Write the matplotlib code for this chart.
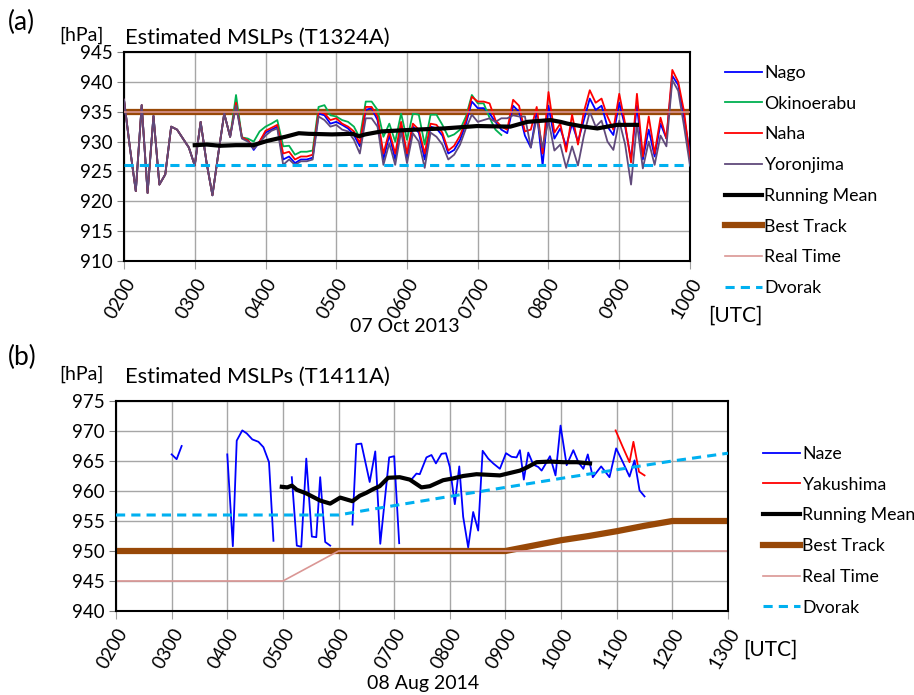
import numpy as np
import matplotlib
matplotlib.use("Agg")
import matplotlib.pyplot as plt

plt.rcParams['font.family'] = ['Lato', 'DejaVu Sans']

nan = np.nan

# ---- panel (a): T1324A, 07 Oct 2013, 5-min samples from 0200 to 1000
a_early = [937.0, 929.0, 921.7, 936.1, 921.4, 934.3, 922.8, 924.5, 932.5, 932.0,
           930.5, 929.0, 926.0, 933.3, 926.5, 921.0, 928.0, 934.7, 930.8]
nago = a_early + [
    936.5, 930.7, 930.3, 928.6, 930.0, 931.5, 932.0, 932.5, 927.0, 927.5,
    926.4, 927.0, 927.0, 927.3, 934.7, 934.4, 933.0, 933.3, 932.8, 932.2,
    931.1, 929.2, 935.3, 935.6, 933.6, 927.0, 931.1, 927.0, 932.8, 927.2,
    932.5, 931.5, 927.0, 932.5, 932.2, 931.0, 928.0, 928.6, 930.3, 933.0,
    936.7, 935.6, 935.6, 934.7, 933.3, 932.0, 931.4, 936.0, 935.0, 931.0,
    929.0, 935.0, 926.0, 936.0, 930.5, 932.2, 929.2, 933.0, 930.0, 933.6,
    937.2, 935.3, 936.0, 932.5, 931.1, 936.5, 932.5, 927.0, 936.0, 927.0,
    932.0, 927.5, 933.0, 930.5, 941.0, 939.5, 934.0, 928.0]
okinoerabu = a_early + [
    937.8, 930.7, 930.5, 930.0, 931.7, 932.5, 933.0, 933.6, 929.2, 929.3,
    927.8, 928.3, 928.3, 928.5, 935.8, 936.1, 934.4, 934.2, 933.6, 933.3,
    932.5, 930.6, 936.7, 936.7, 935.3, 930.8, 933.0, 930.0, 934.7, 930.3,
    934.7, 934.5, 929.5, 934.5, 934.5, 932.8, 930.8, 931.2, 932.0, 934.2,
    937.8, 936.4, 936.4, 934.0, 932.0, 931.1] + [nan] * 32
naha = a_early + [
    936.5, 930.7, 930.2, 928.9, 930.0, 931.8, 932.3, 932.8, 928.0, 928.3,
    927.0, 927.5, 927.5, 927.8, 935.0, 934.7, 933.6, 933.9, 933.0, 932.5,
    931.7, 929.7, 935.8, 935.8, 934.2, 928.0, 931.7, 928.0, 933.3, 928.0,
    933.0, 932.0, 928.0, 933.0, 932.8, 931.5, 928.5, 929.3, 931.0, 933.6,
    937.5, 936.7, 936.7, 936.4, 933.6, 932.5, 932.0, 937.0, 936.0, 931.7,
    932.0, 935.8, 928.0, 938.3, 931.5, 933.0, 928.3, 934.5, 929.5, 935.0,
    938.6, 936.5, 937.2, 934.2, 932.0, 938.0, 933.0, 926.5, 938.0, 927.5,
    934.2, 928.0, 934.0, 930.5, 942.0, 940.0, 935.0, 927.0]
yoronjima = a_early + [
    936.0, 930.5, 930.0, 928.8, 929.8, 931.0, 931.8, 932.2, 926.1, 927.0,
    926.1, 926.7, 926.7, 927.0, 934.2, 933.6, 932.5, 932.8, 932.0, 931.7,
    930.3, 928.0, 933.9, 933.9, 932.5, 926.1, 929.7, 926.1, 931.7, 926.4,
    931.4, 930.0, 925.6, 931.5, 930.8, 929.5, 927.0, 927.8, 929.5, 932.2,
    934.5, 933.3, 933.6, 933.9, 933.3, 933.9, 933.9, 934.4, 934.2, 934.2,
    929.0, 934.0, 929.0, 933.5, 928.5, 929.5, 925.6, 929.2, 926.0, 931.0,
    935.0, 932.5, 933.5, 930.0, 928.6, 933.5, 929.5, 922.8, 933.0, 925.5,
    930.0, 926.1, 931.0, 929.2, 940.3, 938.5, 932.5, 926.0]
a_hours = 2 + np.arange(len(nago)) / 12.0

a_mean_t = [3.0, 3.17, 3.36, 3.58, 3.83, 4.02, 4.28, 4.47, 4.61, 4.94, 5.23, 5.32, 5.41,
            5.64, 6.12, 6.52, 6.99, 7.46, 7.7, 8.03, 8.17, 8.27, 8.5, 8.69, 8.97, 9.25]
a_mean = [929.4, 929.5, 929.3, 929.4, 929.4, 930.1, 930.8, 931.4, 931.3, 931.2, 931.3,
          930.9, 931.2, 931.7, 932.0, 932.2, 932.6, 932.5, 933.3, 933.6, 933.3, 933.0,
          932.5, 932.2, 932.8, 932.8]
a_best_t, a_best = [2, 10], [935, 935]
a_real_t, a_real = [2, 10], [935, 935]
a_dvorak_t, a_dvorak = [2, 10], [926, 926]

# ---- panel (b): T1411A, 08 Aug 2014
naze_t = [3.0, 3.09, 3.18, 3.19,
          4.0, 4.1, 4.17, 4.27, 4.35, 4.45, 4.56, 4.65, 4.75, 4.83, 4.84,
          5.16, 5.25, 5.33, 5.42, 5.52, 5.6, 5.67, 5.76, 5.85, 5.86,
          6.25, 6.32, 6.41, 6.56, 6.66, 6.75, 6.91, 7.0, 7.09, 7.1,
          7.3, 7.4, 7.46, 7.58, 7.67, 7.75, 7.85, 7.93, 8.0, 8.09, 8.17, 8.24, 8.33,
          8.42, 8.51, 8.59, 8.69, 8.78, 8.9, 9.01, 9.11, 9.2, 9.26, 9.33, 9.41, 9.5,
          9.59, 9.65, 9.74, 9.8, 9.9, 9.99, 10.1, 10.22, 10.31, 10.4, 10.48, 10.57,
          10.72, 10.87, 10.99, 11.11, 11.23, 11.32, 11.41, 11.5]
naze = [966.1, 965.3, 967.5, nan,
        966.1, 950.8, 968.4, 970.1, 969.6, 968.6, 968.2, 967.3, 964.8, 951.7, nan,
        962.3, 950.9, 950.7, 965.4, 952.4, 952.3, 962.3, 951.5, 950.9, nan,
        954.4, 967.8, 967.9, 961.5, 966.6, 951.2, 965.6, 965.8, 951.3, nan,
        961.8, 962.9, 962.8, 965.6, 966.0, 964.6, 966.2, 966.3, 964.0, 957.8, 964.1,
        955.7, 950.6, 956.5, 953.4, 966.7, 965.4, 964.6, 963.7, 966.3, 965.7, 965.6,
        966.8, 961.9, 966.4, 964.4, 964.0, 963.4, 964.8, 965.8, 962.6, 970.9, 964.3,
        966.8, 964.8, 963.7, 966.1, 962.3, 964.1, 962.3, 967.1, 964.8, 962.4, 965.1,
        960.1, 959.1]
yakushima_t = [10.98, 11.11, 11.23, 11.3, 11.4, 11.5]
yakushima = [970.1, 967.3, 964.8, 968.2, 963.2, 962.6]
b_mean_t = [4.98, 5.08, 5.16, 5.25, 5.42, 5.67, 5.85, 6.03, 6.25, 6.38, 6.5, 6.62, 6.74,
            6.89, 7.1, 7.28, 7.49, 7.64, 7.88, 8.06, 8.24, 8.48, 8.9, 9.08, 9.26, 9.38,
            9.56, 9.8, 10.04, 10.28, 10.52]
b_mean = [960.7, 960.6, 960.9, 960.2, 959.6, 958.4, 957.9, 958.9, 958.3, 959.2, 959.7,
          960.3, 960.8, 962.2, 962.3, 961.9, 960.6, 960.8, 961.8, 962.1, 962.5, 962.8,
          962.6, 963.0, 963.4, 963.9, 964.8, 964.9, 964.8, 964.8, 964.6]
b_best_t = [2, 9, 9.5, 10, 10.5, 11, 11.5, 12, 13]
b_best = [950, 950, 950.9, 951.8, 952.5, 953.3, 954.2, 955, 955]
b_real_t = [2, 5, 6, 13]
b_real = [945, 945, 950, 950]
b_dvorak_t = [2, 6, 6.5, 8, 10, 12, 13]
b_dvorak = [956, 956, 956.8, 959.1, 962.1, 965.0, 966.3]

a_ticks = ["0200", "0300", "0400", "0500", "0600", "0700", "0800", "0900", "1000"]
b_ticks = ["0200", "0300", "0400", "0500", "0600", "0700", "0800", "0900", "1000",
           "1100", "1200", "1300"]

BLUE, GREEN, RED, PURPLE = "#0000FF", "#00B050", "#FF0000", "#604A7B"
BROWN, PINK, CYAN = "#984807", "#DA9694", "#00B0F0"

W, H = 914, 695
fig = plt.figure(figsize=(W / 100, H / 100), dpi=100)


def box(l, t, r, b):
    return [l / W, 1 - b / H, (r - l) / W, (b - t) / H]


def style(ax, ticks, ylo, yhi):
    ax.set_xlim(2, 1 + len(ticks))
    ax.set_ylim(ylo, yhi)
    ax.set_xticks(range(2, 2 + len(ticks)))
    ax.set_xticklabels(ticks, rotation=60, ha="right", rotation_mode="anchor", fontsize=13.5)
    ax.set_yticks(np.arange(ylo, yhi + 1, 5))
    ax.tick_params(axis="y", labelsize=13.5, length=5, color="#808080", pad=3)
    ax.tick_params(axis="x", length=6, color="#A0A0A0", pad=4)
    ax.grid(True, color="#A6A6A6", lw=1)
    ax.set_axisbelow(True)
    for s in ax.spines.values():
        s.set_linewidth(1.5)


def px(x, y):
    return x / W, 1 - y / H


leg_kw = dict(loc="upper left", frameon=False, fontsize=12.8, handlelength=2.08,
              handletextpad=0.12, labelspacing=0.83, borderpad=0)

# panel (a)
ax1 = fig.add_axes(box(124, 52, 690, 261))
ax1.plot(a_best_t, a_best, color=BROWN, lw=4.5, zorder=2, label="Best Track")
ax1.plot(a_hours, nago, color=BLUE, lw=1.3, zorder=3, label="Nago")
ax1.plot(a_hours, okinoerabu, color=GREEN, lw=1.3, zorder=3, label="Okinoerabu")
ax1.plot(a_hours, naha, color=RED, lw=1.3, zorder=3, label="Naha")
ax1.plot(a_hours, yoronjima, color=PURPLE, lw=1.3, zorder=3, label="Yoronjima")
ax1.plot(a_mean_t, a_mean, color="black", lw=3, zorder=4, label="Running Mean")
ax1.plot(a_real_t, a_real, color=PINK, lw=1.2, zorder=4, label="Real Time")
ax1.plot(a_dvorak_t, a_dvorak, color=CYAN, lw=2.2, dashes=(3, 2), zorder=5, label="Dvorak")
style(ax1, a_ticks, 910, 945)
h, l = ax1.get_legend_handles_labels()
order = ["Nago", "Okinoerabu", "Naha", "Yoronjima", "Running Mean", "Best Track",
         "Real Time", "Dvorak"]
hd = dict(zip(l, h))
fig.legend([hd[k] for k in order], order, bbox_to_anchor=px(716, 56), **leg_kw)

# panel (b)
ax2 = fig.add_axes(box(116, 401, 728, 611))
ax2.plot(naze_t, naze, color=BLUE, lw=1.3, zorder=3, label="Naze")
ax2.plot(yakushima_t, yakushima, color=RED, lw=1.3, zorder=3, label="Yakushima")
ax2.plot(b_mean_t, b_mean, color="black", lw=3, zorder=4, label="Running Mean")
ax2.plot(b_best_t, b_best, color=BROWN, lw=4.5, zorder=2, label="Best Track")
ax2.plot(b_real_t, b_real, color=PINK, lw=1.2, zorder=2, label="Real Time")
ax2.plot(b_dvorak_t, b_dvorak, color=CYAN, lw=2.2, dashes=(3, 2), zorder=5, label="Dvorak")
style(ax2, b_ticks, 940, 975)
fig.legend(*ax2.get_legend_handles_labels(), bbox_to_anchor=px(754, 437), **leg_kw)

# texts
fig.text(*px(8, 22), "(a)", fontsize=19, va="center")
fig.text(*px(59, 35), "[hPa]", fontsize=14, va="center")
fig.text(*px(125, 38), "Estimated MSLPs (T1324A)", fontsize=15.8, va="center")
fig.text(*px(405, 326), "07 Oct 2013", fontsize=14, va="center", ha="center")
fig.text(*px(735, 316), "[UTC]", fontsize=15, va="center", ha="center")
fig.text(*px(8, 357), "(b)", fontsize=19, va="center")
fig.text(*px(59, 374), "[hPa]", fontsize=14, va="center")
fig.text(*px(125, 377), "Estimated MSLPs (T1411A)", fontsize=15.8, va="center")
fig.text(*px(423, 683), "08 Aug 2014", fontsize=14, va="center", ha="center")
fig.text(*px(770, 650), "[UTC]", fontsize=15, va="center", ha="center")

fig.savefig("out.png", dpi=100)
